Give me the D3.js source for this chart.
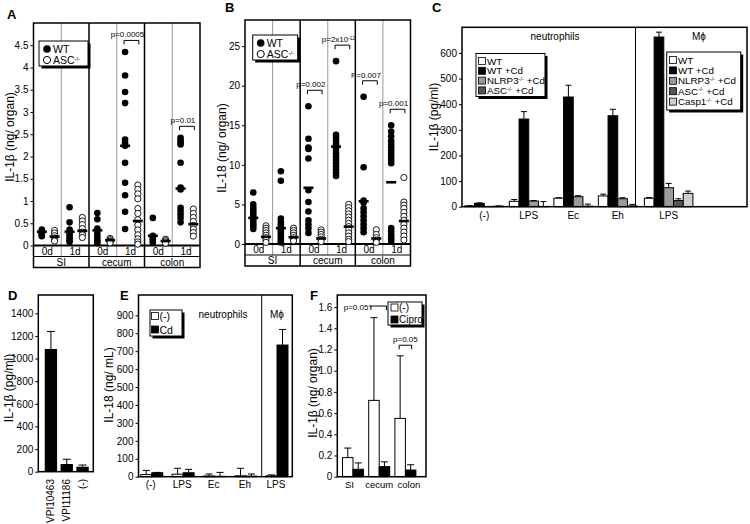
<!DOCTYPE html>
<html><head><meta charset="utf-8">
<script src="https://cdn.jsdelivr.net/npm/d3@7"></script>
<style>
body{margin:0;background:#fff;}
svg{display:block;font-family:"Liberation Sans",Arial,sans-serif;}
text{white-space:pre;}
</style></head><body>
<svg id="c" width="750" height="524"></svg>
<script>
// ---------------- DATA ----------------
// Panel A: IL-1beta (ng/organ), dot plots
const aColumns = ["SI 0d","SI 1d","cecum 0d","cecum 1d","colon 0d","colon 1d"];
const aDays = ["0d","1d","0d","1d","0d","1d"];
const aSections = ["SI","cecum","colon"];
const aTicks = [0,0.5,1,1.5,2,2.5,3,3.5,4,4.5];
const aWT = [
  [0.36,0.33,0.31,0.29,0.27,0.24,0.21],
  [0.86,0.52,0.36,0.31,0.27,0.22,0.17,0.12,0.08],
  [0.73,0.59,0.38,0.27,0.2,0.14,0.09,0.05],
  [4.35,3.82,3.45,3.2,2.38,2.3,2.24,1.86,1.41,1.13,0.76,0.37],
  [0.62,0.22,0.18,0.14,0.1,0.06],
  [2.42,2.37,2.32,2.27,1.86,1.3,1.26,0.85,0.78,0.7,0.62,0.52]
];
const aWTMean = [0.31,0.31,0.34,2.24,0.22,1.28];
const aASC = [
  [0.34,0.28,0.22,0.17,0.13,0.1],
  [0.63,0.55,0.47,0.38,0.3,0.24,0.18],
  [0.16,0.13,0.1,0.08,0.06],
  [1.36,1.26,1.16,1.05,0.83,0.72,0.58,0.46,0.35,0.24,0.15,0.08,0.03],
  [0.14,0.11,0.08,0.05],
  [0.82,0.72,0.63,0.54,0.45,0.37,0.29,0.21]
];
const aASCMean = [0.2,0.33,0.12,0.55,0.1,0.48];
const aPColumns = ["cecum 1d","colon 1d"];
const aPTexts = ["p=0.0005","p=0.01"];

// Panel B: IL-18 (ng/organ), dot plots
const bColumns = ["SI 0d","SI 1d","cecum 0d","cecum 1d","colon 0d","colon 1d"];
const bDays = ["0d","1d","0d","1d","0d","1d"];
const bSections = ["SI","cecum","colon"];
const bTicks = [0,5,10,15,20,25];
const bWT = [
  [6.5,5.0,4.6,4.3,4.0,3.7,3.4,3.1,2.8,2.5,2.2,1.9],
  [9.2,8.0,3.2,2.8,2.5,2.2,1.9,1.6,1.3,1.0,0.7,0.4,0.2],
  [17.4,13.3,12.2,12.0,10.8,6.8,5.3,4.1,3.0,2.5,2.0,1.4],
  [23.1,13.8,13.4,13.0,12.6,12.2,11.8,11.4,11.0,10.6,10.2,9.8,9.4,9.0,8.6],
  [18.6,9.7,5.5,5.2,4.5,4.0,3.5,3.0,2.5,2.0,1.5],
  [15.0,14.2,13.6,13.0,12.6,12.2,11.8,11.4,11.0,10.6,10.2,2.0,1.6,1.2,0.9,0.6,0.3]
];
const bWTMean = [3.3,2.0,7.1,12.3,5.4,7.8];
const bASC = [
  [2.3,2.0,1.7,1.4,1.1,0.8,0.5,0.2],
  [2.0,1.7,1.4,1.1,0.8,0.6,0.4],
  [1.8,1.5,1.2,0.9,0.6,0.3],
  [5.0,4.6,4.2,3.8,3.4,3.0,2.6,2.2,1.8,1.4,1.0,0.6,0.3],
  [1.8,1.2,0.8,0.5,0.2],
  [8.4,5.3,4.9,4.5,4.0,3.5,3.0,2.5,2.0,1.5,1.0,0.5]
];
const bASCMean = [0.9,0.85,0.7,2.2,0.7,2.9];
const bPColumns = ["cecum 0d","cecum 1d","colon 0d","colon 1d"];
const bPTexts = ["p=0.002","p=2x10^-12^","P=0.007","p=0.001"];

// Panel C: IL-1beta (pg/ml), grouped bars
const cTicks = [0,100,200,300,400,500,600];
const cNeutroGroups = ["(-)","LPS","Ec","Eh"];
const cNeutroSeries = ["WT","WT +Cd","NLRP3^-/-^ +Cd","ASC^-/-^ +Cd"];
const cNeutroMean = [[3,13,0.5,2],[21,342,22,1],[33,428,39,2],[42,355,31,3]];
const cNeutroErr  = [[1,2,0.5,1],[7,29,2,19],[2,46,4,8],[7,25,4,6]];
const cMacGroups = ["LPS"];
const cMacSeries = ["WT","WT +Cd","NLRP3^-/-^ +Cd","ASC^-/-^ +Cd","Casp1^-/-^ +Cd"];
const cMacMean = [[33,662,74,24,52]];
const cMacErr  = [[3,19,17,7,9]];

// Panel D: IL-1beta (pg/ml)
const dTicks = [0,200,400,600,800,1000,1200,1400];
const dLabels = ["VPI10463","VPI11186","(-)"];
const dMean = [1085,68,44];
const dErr = [155,42,15];

// Panel E: IL-18 (ng/mL)
const eTicks = [0,100,200,300,400,500,600,700,800,900];
const eNeutroGroups = ["(-)","LPS","Ec","Eh"];
const eSeries = ["(-)","Cd"];
const eNeutroMean = [[12,22],[14,22],[4,2],[5,3]];
const eNeutroErr  = [[23,2],[33,19],[11,22],[42,12]];
const eMacGroups = ["LPS"];
const eMacMean = [[5,734]];
const eMacErr  = [[5,87]];

// Panel F: IL-1beta (ng/organ)
const fTicks = [0,0.2,0.4,0.6,0.8,1.0,1.2,1.4,1.6];
const fGroups = ["SI","cecum","colon"];
const fSeries = ["(-)","Cipro"];
const fMean = [[0.18,0.07],[0.72,0.095],[0.55,0.063]];
const fErr  = [[0.09,0.06],[0.78,0.045],[0.59,0.05]];
const fPGroups = ["cecum","colon"];
const fPTexts = ["p=0.05","p=0.05"];
const fPLevels = [1.61,1.24];

// ---------------- DRAWING ----------------
const FONT = '"Liberation Sans", Arial, sans-serif';
const svg = d3.select('#c');
const colorC = {"WT":"#ffffff","WT +Cd":"#000000","NLRP3^-/-^ +Cd":"#9a9a9a","ASC^-/-^ +Cd":"#555555","Casp1^-/-^ +Cd":"#d0d0d0"};
const colorE = {"(-)":"#ffffff","Cd":"#000000"};
const colorF = {"(-)":"#ffffff","Cipro":"#000000"};

function rich(sel, str, fs){
  const parts = str.split('^'); let shifted = false;
  parts.forEach((p,i)=>{
    if(p==='') return;
    const t = sel.append('tspan').text(p);
    if(i%2===1){ t.attr('font-size', fs*0.58).attr('dy', -fs*0.33); shifted = true; }
    else if(shifted){ t.attr('dy', fs*0.33); shifted = false; }
  });
  return sel;
}
function txt(x,y,str,fs,anchor,weight){
  const t = svg.append('text').attr('x',x).attr('y',y).attr('font-size',fs)
    .attr('text-anchor',anchor||'start').attr('font-weight',weight||'normal').attr('fill','#000');
  rich(t,str,fs); return t;
}
function yLabel(x,y,str){
  svg.append('text').attr('transform',`translate(${x},${y}) rotate(-90)`)
    .attr('text-anchor','middle').attr('dy','0.35em').attr('font-size',12).text(str);
}
function yAxis(y, ticks, x, fmt){
  const ax = d3.axisLeft(y).tickValues(ticks).tickSize(3).tickPadding(2).tickFormat(fmt||(d=>String(d)));
  const a = svg.append('g').attr('transform',`translate(${x},0)`).call(ax);
  a.attr('font-family',FONT).attr('font-size',10);
  a.select('.domain').remove();
  a.selectAll('line').attr('stroke','#000');
  a.selectAll('text').attr('fill','#000');
}
function legendBox(x,y,w,h){
  svg.append('rect').attr('x',x+2.5).attr('y',y+2.5).attr('width',w).attr('height',h).attr('fill','#000');
  svg.append('rect').attr('x',x).attr('y',y).attr('width',w).attr('height',h).attr('fill','#fff').attr('stroke','#000').attr('stroke-width',1);
}
function box(x0,y0,x1,y1){
  svg.append('rect').attr('x',x0).attr('y',y0).attr('width',x1-x0).attr('height',y1-y0)
    .attr('fill','none').attr('stroke','#000').attr('stroke-width',1.5);
}
function errBar(cx, y0, y1, cap){
  svg.append('line').attr('x1',cx).attr('x2',cx).attr('y1',y0).attr('y2',y1).attr('stroke','#000').attr('stroke-width',1);
  svg.append('line').attr('x1',cx-cap).attr('x2',cx+cap).attr('y1',y1).attr('y2',y1).attr('stroke','#000').attr('stroke-width',1);
}

// Panel letters
txt(7,19,"A",13,'start','bold');
txt(225,12,"B",13,'start','bold');
txt(432,12,"C",13,'start','bold');
txt(8,300,"D",13,'start','bold');
txt(120,300,"E",13,'start','bold');
txt(310,300,"F",13,'start','bold');

// ---- scatter panel ----
function scatterPanel(o){
  const x = d3.scaleBand().domain(o.cols).range([o.left,o.right]);
  const y = d3.scaleLinear().domain([0,o.max]).range([o.base,o.top]);
  const bw = x.bandwidth();
  const wx = c => x(c)+bw*0.3, axp = c => x(c)+bw*0.76;
  o.cols.forEach((c,i)=>{ if(i%2===1) svg.append('line').attr('x1',x(c)).attr('x2',x(c)).attr('y1',o.top).attr('y2',o.row1).attr('stroke','#999').attr('stroke-width',1); });
  o.cols.forEach((c,i)=>{ if(i>0 && i%2===0) svg.append('line').attr('x1',x(c)).attr('x2',x(c)).attr('y1',o.top).attr('y2',o.row2).attr('stroke','#000').attr('stroke-width',1.5); });
  box(o.left,o.top,o.right,o.row2);
  svg.append('line').attr('x1',o.left).attr('x2',o.right).attr('y1',o.base).attr('y2',o.base).attr('stroke','#000').attr('stroke-width',1.8);
  svg.append('line').attr('x1',o.left).attr('x2',o.right).attr('y1',o.row1).attr('y2',o.row1).attr('stroke','#000').attr('stroke-width',1);
  yAxis(y,o.ticks,o.left);
  o.cols.forEach((c,i)=>{
    svg.append('g').selectAll('circle').data(o.wt[i]).join('circle')
      .attr('cx',wx(c)).attr('cy',d=>y(d)).attr('r',3.3).attr('fill','#000');
    svg.append('g').selectAll('circle').data(o.asc[i]).join('circle')
      .attr('cx',axp(c)).attr('cy',d=>y(d)).attr('r',3.1).attr('fill','#fff').attr('stroke','#000').attr('stroke-width',0.9);
    svg.append('line').attr('x1',wx(c)-5).attr('x2',wx(c)+5).attr('y1',y(o.wtMean[i])).attr('y2',y(o.wtMean[i])).attr('stroke','#000').attr('stroke-width',2.6);
    svg.append('line').attr('x1',axp(c)-5).attr('x2',axp(c)+5).attr('y1',y(o.ascMean[i])).attr('y2',y(o.ascMean[i])).attr('stroke','#000').attr('stroke-width',2.6);
    txt(x(c)+bw/2,(o.base+o.row1)/2+3.6,o.days[i],10,'middle');
  });
  o.sections.forEach((s,k)=>{
    const c0 = o.cols[k*2];
    txt(x(c0)+bw,(o.row1+o.row2)/2+3.6,s,10,'middle');
  });
  o.pcols.forEach((c,k)=>{
    const i = o.cols.indexOf(c);
    const by = y(d3.max(o.wt[i]))-o.poff;
    const x0 = wx(c)-1, x1 = axp(c)+1;
    svg.append('path').attr('d',`M${x0},${by+4}V${by}H${x1}V${by+4}`).attr('fill','none').attr('stroke','#000').attr('stroke-width',1);
    txt((x0+x1)/2-4,by-3,o.ptexts[k],8,'middle');
  });
  legendBox(o.leg[0],o.leg[1],o.leg[2],o.leg[3]);
  const lx = o.leg[0]+8, ly = o.leg[1];
  svg.append('circle').attr('cx',lx).attr('cy',ly+8).attr('r',3.8).attr('fill','#000');
  svg.append('circle').attr('cx',lx).attr('cy',ly+19).attr('r',3.6).attr('fill','#fff').attr('stroke','#000');
  txt(lx+6,ly+12,"WT",10.5);
  txt(lx+6,ly+23,"ASC^-/-^",10.5);
}

scatterPanel({cols:aColumns,days:aDays,sections:aSections,ticks:aTicks,wt:aWT,asc:aASC,wtMean:aWTMean,ascMean:aASCMean,
  left:33.5,right:200,top:23,base:245.5,row1:256.5,row2:267.5,max:5.0,pcols:aPColumns,ptexts:aPTexts,poff:11.5,
  leg:[39,41,49,25]});
yLabel(10,137,"IL-1β (ng/ organ)");

scatterPanel({cols:bColumns,days:bDays,sections:bSections,ticks:bTicks,wt:bWT,asc:bASC,wtMean:bWTMean,ascMean:bASCMean,
  left:245,right:410.5,top:20,base:244,row1:255,row2:266,max:28.3,pcols:bPColumns,ptexts:bPTexts,poff:16,
  leg:[252.7,35,45,25]});
yLabel(222,148,"IL-18 (ng/ organ)");

// ---- Panel C ----
{
  const y = d3.scaleLinear().domain([0,700]).range([206.7,27.3]);
  const xN = d3.scaleBand().domain(cNeutroGroups).range([462,640]);
  const xM = d3.scaleBand().domain(cMacGroups).range([635.5,701.8]);
  const inN = d3.scaleBand().domain(cNeutroSeries).range([0,38.8]);
  const inM = d3.scaleBand().domain(cMacSeries).range([0,48.5]);
  function draw(xs, ins, groups, series, mean, err){
    groups.forEach((g,gi)=>{
      const gx = xs(g)+xs.bandwidth()/2 - (ins.range()[1])/2;
      series.forEach((s,si)=>{
        const v = mean[gi][si], bx = gx+ins(s), w = ins.bandwidth();
        errBar(bx+w/2, y(v), y(v+err[gi][si]), 3);
        svg.append('rect').attr('x',bx).attr('y',y(v)).attr('width',w).attr('height',y(0)-y(v))
          .attr('fill',colorC[s]).attr('stroke','#000').attr('stroke-width',1);
      });
      txt(xs(g)+xs.bandwidth()/2,219,g,10,'middle');
    });
  }
  draw(xN,inN,cNeutroGroups,cNeutroSeries,cNeutroMean,cNeutroErr);
  draw(xM,inM,cMacGroups,cMacSeries,cMacMean,cMacErr);
  svg.append('line').attr('x1',635.5).attr('x2',635.5).attr('y1',27.3).attr('y2',206.7).attr('stroke','#000').attr('stroke-width',1);
  box(462,27.3,747,206.7);
  yAxis(y,cTicks,462);
  yLabel(434,117,"IL-1β (pg/ml)");
  txt(555,40,"neutrophils",10,'middle');
  txt(699,40,"Mϕ",10,'middle');
  legendBox(476,53.5,69,43);
  cNeutroSeries.forEach((s,i)=>{
    const yc = 61+i*9.8;
    svg.append('rect').attr('x',478.5).attr('y',yc-3.5).attr('width',7).attr('height',7).attr('fill',colorC[s]).attr('stroke','#000').attr('stroke-width',0.8);
    txt(487,yc+3.5,s,9.8);
  });
  legendBox(666.7,52,74,58);
  cMacSeries.forEach((s,i)=>{
    const yc = 60+i*10.4;
    svg.append('rect').attr('x',669.5).attr('y',yc-3.5).attr('width',7).attr('height',7).attr('fill',colorC[s]).attr('stroke','#000').attr('stroke-width',0.8);
    txt(678,yc+3.5,s,9.8);
  });
}

// ---- Panel D ----
{
  const y = d3.scaleLinear().domain([0,1562]).range([471.7,295]);
  const x = d3.scaleBand().domain(dLabels).range([43,90.5]).paddingInner(0.22).paddingOuter(0.11);
  dLabels.forEach((l,i)=>{
    const bx = x(l), w = x.bandwidth();
    errBar(bx+w/2, y(dMean[i]), y(dMean[i]+dErr[i]), 4);
    svg.append('rect').attr('x',bx).attr('y',y(dMean[i])).attr('width',w).attr('height',y(0)-y(dMean[i])).attr('fill','#000');
    svg.append('text').attr('transform',`translate(${bx+w/2+3.5},479) rotate(-90)`).attr('text-anchor','end').attr('font-size',10).text(l);
  });
  box(38.3,295,93.3,471.7);
  yAxis(y,dTicks,38.3);
  yLabel(9,388,"IL-1β (pg/ml)");
}

// ---- Panel E ----
{
  const y = d3.scaleLinear().domain([0,1013]).range([476.7,295]);
  const xN = d3.scaleBand().domain(eNeutroGroups).range([136,261.7]);
  const xM = d3.scaleBand().domain(eMacGroups).range([261.7,292.3]);
  const ins = d3.scaleBand().domain(eSeries).range([0,22]);
  function draw(xs, groups, mean, err){
    groups.forEach((g,gi)=>{
      const gx = xs(g)+xs.bandwidth()/2-11;
      eSeries.forEach((s,si)=>{
        const v = mean[gi][si], bx = gx+ins(s), w = ins.bandwidth();
        errBar(bx+w/2, y(v), y(v+err[gi][si]), 3.5);
        svg.append('rect').attr('x',bx).attr('y',y(v)).attr('width',w).attr('height',y(0)-y(v))
          .attr('fill',colorE[s]).attr('stroke','#000').attr('stroke-width',1);
      });
      txt(xs(g)+xs.bandwidth()/2-1,488,g,10,'middle');
    });
  }
  draw(xN,eNeutroGroups,eNeutroMean,eNeutroErr);
  draw(xM,eMacGroups,eMacMean,eMacErr);
  svg.append('line').attr('x1',261.7).attr('x2',261.7).attr('y1',295).attr('y2',476.7).attr('stroke','#000').attr('stroke-width',1);
  box(138.5,295,292.3,476.7);
  yAxis(y,eTicks,138.5);
  yLabel(109,385,"IL-18 (ng/ mL)");
  txt(223,318,"neutrophils",10,'middle');
  txt(277,318,"Mϕ",10,'middle');
  legendBox(150,310,32,26);
  eSeries.forEach((s,i)=>{
    const yc = 316.5+i*13.5;
    svg.append('rect').attr('x',151.5).attr('y',yc-4).attr('width',7).attr('height',7).attr('fill',colorE[s]).attr('stroke','#000').attr('stroke-width',0.8);
    txt(159.5,yc+3.5,s,10.5);
  });
}

// ---- Panel F ----
{
  const y = d3.scaleLinear().domain([0,1.714]).range([476.7,295]);
  const x = d3.scaleBand().domain(fGroups).range([339.9,418.5]);
  const ins = d3.scaleBand().domain(fSeries).range([0,21]);
  fGroups.forEach((g,gi)=>{
    const gx = x(g)+x.bandwidth()/2-10.5;
    fSeries.forEach((s,si)=>{
      const v = fMean[gi][si], bx = gx+ins(s), w = ins.bandwidth();
      errBar(bx+w/2, y(v), y(v+fErr[gi][si]), 3.5);
      svg.append('rect').attr('x',bx).attr('y',y(v)).attr('width',w).attr('height',y(0)-y(v))
        .attr('fill',colorF[s]).attr('stroke','#000').attr('stroke-width',1);
    });
    txt(x(g)+x.bandwidth()/2+(gi-1)*3.5,488,g,9.5,'middle');
  });
  box(337.3,295,426,476.7);
  yAxis(y,fTicks,337.3,d=>d===0?"0":d.toFixed(1));
  yLabel(312.7,393,"IL-1β (ng/ organ)");
  fPGroups.forEach((g,k)=>{
    const c0 = x(g)+x.bandwidth()/2-10.5+ins.bandwidth()/2;
    const c1 = c0+ins.bandwidth();
    const by = y(fPLevels[k]);
    if(k===0){
      svg.append('path').attr('d',`M${c0-5},${by}H${c1+2}V${by+4}M${c0-3},${by}V${by+4}`).attr('fill','none').attr('stroke','#000');
      txt(c0-5.5,by+4,fPTexts[k],8,'end');
    } else {
      svg.append('path').attr('d',`M${c0-1},${by+4}V${by}H${c1+1}V${by+4}`).attr('fill','none').attr('stroke','#000');
      txt((c0+c1)/2,by-3,fPTexts[k],8,'middle');
    }
  });
  legendBox(388,302,34,23);
  fSeries.forEach((s,i)=>{
    const yc = 307.5+i*12;
    svg.append('rect').attr('x',391).attr('y',yc-3.5).attr('width',7).attr('height',7).attr('fill',colorF[s]).attr('stroke','#000').attr('stroke-width',0.8);
    txt(399,yc+3.6,s,10);
  });
}
</script>
</body></html>
